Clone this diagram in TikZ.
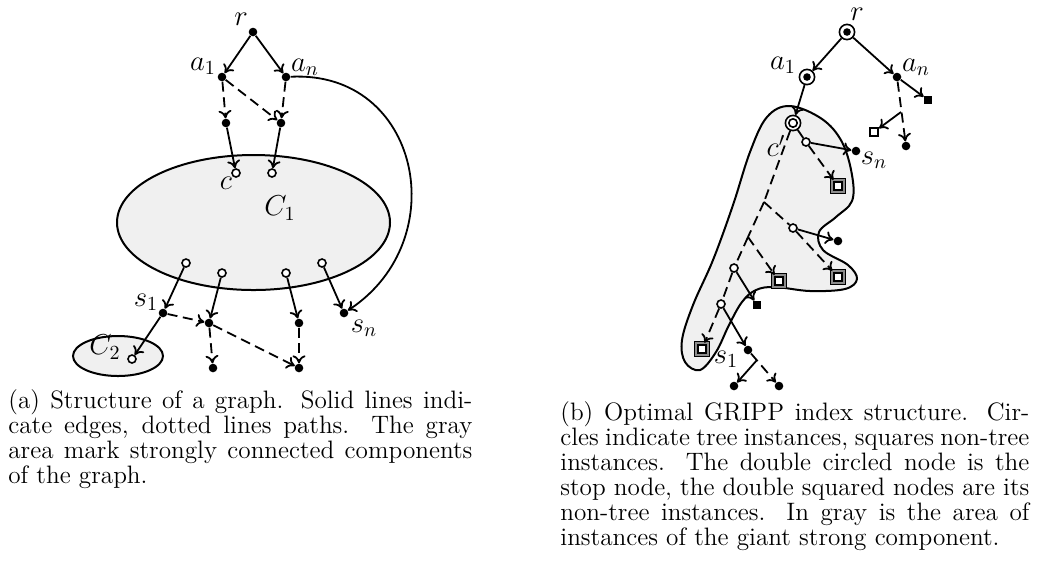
\documentclass[tikz,border=0pt]{standalone}
\usepackage{tikz}
\usetikzlibrary{arrows.meta}
\definecolor{grigio}{HTML}{F0F0F0}
\definecolor{grigioq}{HTML}{8C8C8C}

\tikzset{
  punto/.style={circle, fill=black, inner sep=0pt, minimum size=4.3pt},
  vuoto/.style={circle, draw, fill=white, line width=0.8pt, inner sep=0pt, minimum size=4pt},
  quadro/.style={rectangle, fill=black, inner sep=0pt, minimum size=4pt},
  quadrovuoto/.style={rectangle, draw, fill=white, line width=0.8pt, inner sep=0pt, minimum size=4.2pt},
  doppioquadro/.style={rectangle, draw, line width=0.65pt, double=grigioq, double distance=1pt, fill=white, inner sep=0pt, minimum size=5.6pt},
  radice/.style={circle, draw, fill=white, line width=0.8pt, inner sep=0pt, minimum size=7.6pt,
    path picture={\fill[black] (path picture bounding box.center) circle (1.9pt);}},
  fermata/.style={circle, draw, fill=white, line width=0.8pt, inner sep=0pt, minimum size=7.6pt,
    path picture={\draw[black, line width=0.8pt] (path picture bounding box.center) circle (2.1pt);}},
  freccia/.style={->, line width=0.9pt},
  tratto/.style={line width=0.9pt, dash pattern=on 5pt off 2.8pt},
  etichetta/.style={font=\Large, inner sep=0pt},
  area/.style={draw, fill=grigio, line width=1pt},
  didascalia/.style={anchor=north west, inner sep=0pt, align=justify,
    font=\fontsize{12.6pt}{12.5pt}\selectfont}
}

\begin{document}
\begin{tikzpicture}[x=0.5pt, y=-0.5pt, >={To[length=4pt,width=6.5pt]}]
  \useasboundingbox (0,0) rectangle (1037,570);

  % ---------------- (a) struttura del grafo ----------------
  % componenti fortemente connesse
  \draw[area] (253.5,222.5) ellipse [x radius=68.25pt, y radius=33.75pt];
  \draw[area] (118,356) ellipse [x radius=22.5pt, y radius=10pt];

  % nodi
  \node[punto] (r) at (253,32) {};
  \node[punto] (a1) at (222,77) {};
  \node[punto] (an) at (286,77) {};
  \node[punto] (m1) at (226,123) {};
  \node[punto] (m2) at (281,123) {};
  \node[vuoto] (c) at (236,173) {};
  \node[vuoto] (c2) at (272,173) {};
  \node[vuoto] (u1) at (186,263) {};
  \node[vuoto] (u2) at (222,273) {};
  \node[vuoto] (u3) at (286,273) {};
  \node[vuoto] (u4) at (322,263) {};
  \node[punto] (s1) at (163,313) {};
  \node[punto] (d2) at (209,323) {};
  \node[punto] (d3) at (299,323) {};
  \node[punto] (sn) at (344,313) {};
  \node[vuoto] (w) at (132,359) {};
  \node[punto] (e1) at (213,368) {};
  \node[punto] (e2) at (299,368) {};

  % etichette
  \node[etichetta] (lr) at (241,19) {$r$};
  \node[etichetta] (la1) at (203,66) {$a_1$};
  \node[etichetta] (lan) at (305,67) {$a_n$};
  \node[etichetta] (lc) at (226,183) {$c$};
  \node[etichetta] (lC1) at (280,208) {$C_1$};
  \node[etichetta] (ls1) at (146,302) {$s_1$};
  \node[etichetta] (lsn) at (364,328) {$s_n$};
  \node[etichetta] (lC2) at (105,347) {$C_2$};

  % archi
  \draw[freccia] (r) -- (a1);
  \draw[freccia] (r) -- (an);
  \draw[freccia, tratto] (a1) -- (m1);
  \draw[freccia, tratto] (a1) -- (m2);
  \draw[freccia, tratto] (an) -- (m2);
  \draw[freccia] (m1) -- (c);
  \draw[freccia] (m2) -- (c2);
  \draw[freccia] (an) .. controls (420,70) and (455,240) .. (sn);
  \draw[freccia] (u1) -- (s1);
  \draw[freccia] (u2) -- (d2);
  \draw[freccia] (u3) -- (d3);
  \draw[freccia] (u4) -- (sn);
  \draw[freccia] (s1) -- (w);
  \draw[freccia, tratto] (s1) -- (d2);
  \draw[freccia, tratto] (d2) -- (e1);
  \draw[freccia, tratto] (d2) -- (e2);
  \draw[freccia, tratto] (d3) -- (e2);

  % ---------------- (b) indice GRIPP ----------------
  % area della componente gigante
  \draw[area] plot[smooth cycle, tension=0.6] coordinates {
    (790,106) (822,119) (842,142) (852,175) (852,201) (836,217) (819,232)
    (823,250) (848,265) (857,279) (845,289) (810,291) (775,287) (756,290)
    (742,302) (729,325) (716,352) (700,370) (685,362) (682,340) (693,305)
    (713,260) (733,205) (750,152) (767,117)};

  % istanze
  \node[radice] (R) at (847,32) {};
  \node[radice] (A1) at (807,77) {};
  \node[punto] (AN) at (897,77) {};
  \node[quadro] (Q1) at (928,100) {};
  \node[quadrovuoto] (Q2) at (874,132) {};
  \node[punto] (D1) at (906,146) {};
  \coordinate (B1) at (901,112);
  \node[fermata] (C) at (793,123) {};
  \node[vuoto] (O1) at (806,142) {};
  \node[punto] (SN) at (856,151) {};
  \node[doppioquadro] (Q3) at (838,186) {};
  \coordinate (B2) at (764,202);
  \node[vuoto] (O2) at (793,228) {};
  \node[punto] (D2) at (838,241) {};
  \node[doppioquadro] (Q4) at (838,277) {};
  \coordinate (B3) at (748,237);
  \node[doppioquadro] (Q5) at (779,281) {};
  \node[vuoto] (O3) at (734,268) {};
  \node[quadro] (Q6) at (757,305) {};
  \node[vuoto] (O4) at (721,304) {};
  \node[doppioquadro] (Q7) at (702,349) {};
  \node[punto] (S1) at (748,350) {};
  \coordinate (B4) at (757,360);
  \node[punto] (D3) at (734,386) {};
  \node[punto] (D4) at (779,386) {};

  % etichette
  \node[etichetta] (lR) at (857,14) {$r$};
  \node[etichetta] (lA1) at (783,65) {$a_1$};
  \node[etichetta] (lAN) at (916,67) {$a_n$};
  \node[etichetta] (lC) at (776,146) {$c'$};
  \node[etichetta] (lSN) at (874,160) {$s_n$};
  \node[etichetta] (lS1) at (726,359) {$s_1$};

  % archi
  \draw[freccia] (R) -- (A1);
  \draw[freccia] (R) -- (AN);
  \draw[freccia] (A1) -- (C);
  \draw[freccia] (AN) -- (Q1);
  \draw[freccia, tratto] (AN) -- (D1);
  \draw[freccia] (B1) -- (Q2);
  \draw[line width=0.9pt] (C) -- (O1);
  \draw[freccia] (O1) -- (SN);
  \draw[freccia, tratto] (O1) -- (Q3);
  \draw[tratto] (C) -- (B2);
  \draw[tratto] (B2) -- (O2);
  \draw[freccia] (O2) -- (D2);
  \draw[freccia, tratto] (O2) -- (Q4);
  \draw[tratto] (B2) -- (B3);
  \draw[freccia, tratto] (B3) -- (Q5);
  \draw[tratto] (B3) -- (O3);
  \draw[freccia] (O3) -- (Q6);
  \draw[tratto] (O3) -- (O4);
  \draw[freccia, tratto] (O4) -- (Q7);
  \draw[freccia] (O4) -- (S1);
  \draw[freccia, tratto] (S1) -- (D4);
  \draw[freccia] (B4) -- (D3);

  % didascalie
  \node[didascalia, text width=232pt] (capa) at (8,389)
    {(a) Structure of a graph. Solid lines indi-\linebreak cate edges, dotted
     lines paths. The gray\linebreak area mark strongly connected
     components\linebreak of the graph.};
  \node[didascalia, text width=234.5pt] (capb) at (560,401)
    {(b) Optimal GRIPP index structure. Circles indicate tree instances,
     squares non-tree instances. The double circled node is the stop node,
     the double squared nodes are its non-tree instances. In gray is the
     area of instances of the giant strong component.};
\end{tikzpicture}
\end{document}
